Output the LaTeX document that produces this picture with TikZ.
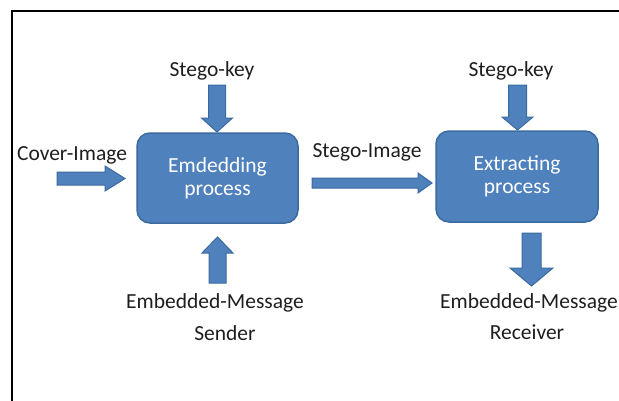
\documentclass[tikz,border=0pt]{standalone}
\usepackage{fontspec}
\setmainfont{Carlito}
\definecolor{boxfill}{HTML}{4F81BD}
\definecolor{boxline}{HTML}{3A6A9F}
\definecolor{txt}{HTML}{1E1E1E}
\begin{document}
\begin{tikzpicture}[x=1pt,y=-1pt,
  proc/.style={draw=boxline, line width=1.5pt, fill=boxfill, rounded corners=13pt,
    text=white, align=center, inner sep=0pt,
    font=\fontsize{21.5}{23}\selectfont},
  lbl/.style={font=\fontsize{21.5}{26}\selectfont, text=txt, inner sep=0pt},
  fat/.style={fill=boxfill, draw=boxline, line width=1pt, line join=miter}]
\useasboundingbox (0,0) rectangle (619,400);
\draw[line width=2.5pt] (12,401) -- (12,11) -- (620,11);

\node[proc, minimum width=161pt, minimum height=90pt] (emb) at (217.5,178) {Emdedding\\process};
\node[proc, minimum width=162pt, minimum height=91pt] (ext) at (517,176.5) {Extracting\\process};

\node[lbl] (sk1) at (212,71) {Stego-key};
\node[lbl] (sk2) at (511,71) {Stego-key};
\node[lbl] (cov) at (72,155) {Cover-Image};
\node[lbl] (sti) at (367,152) {Stego-Image};
\node[lbl] (ems) at (215,303) {Embedded-Message};
\node[lbl] (snd) at (225,333) {Sender};
\node[lbl] (emr) at (529,303) {Embedded-Message};
\node[lbl] (rcv) at (527,332) {Receiver};

% Stego-key -> embedding (down)
\draw[fat] (208.5,85) -- (225.5,85) -- (225.5,118) -- (232.5,118) -- (217,132)
  -- (201.5,118) -- (208.5,118) -- cycle;
% Cover-Image -> embedding (right)
\draw[fat] (57,172) -- (105,172) -- (105,166) -- (125,178.5) -- (105,191)
  -- (105,185) -- (57,185) -- cycle;
% Stego-Image: embedding -> extracting (right)
\draw[fat] (312,178) -- (418,178) -- (418,173) -- (432,183) -- (418,193)
  -- (418,188) -- (312,188) -- cycle;
% Sender message -> embedding (up)
\draw[fat] (209,283) -- (226,283) -- (226,253) -- (233,253) -- (217.5,237)
  -- (202,253) -- (209,253) -- cycle;
% Stego-key -> extracting (down)
\draw[fat] (508.5,85) -- (526.5,85) -- (526.5,117) -- (533,117) -- (517.5,130)
  -- (502,117) -- (508.5,117) -- cycle;
% extracting -> receiver message (down)
\draw[fat] (522,233) -- (541,233) -- (541,268) -- (553,268) -- (531.5,286)
  -- (510,268) -- (522,268) -- cycle;
\end{tikzpicture}
\end{document}
